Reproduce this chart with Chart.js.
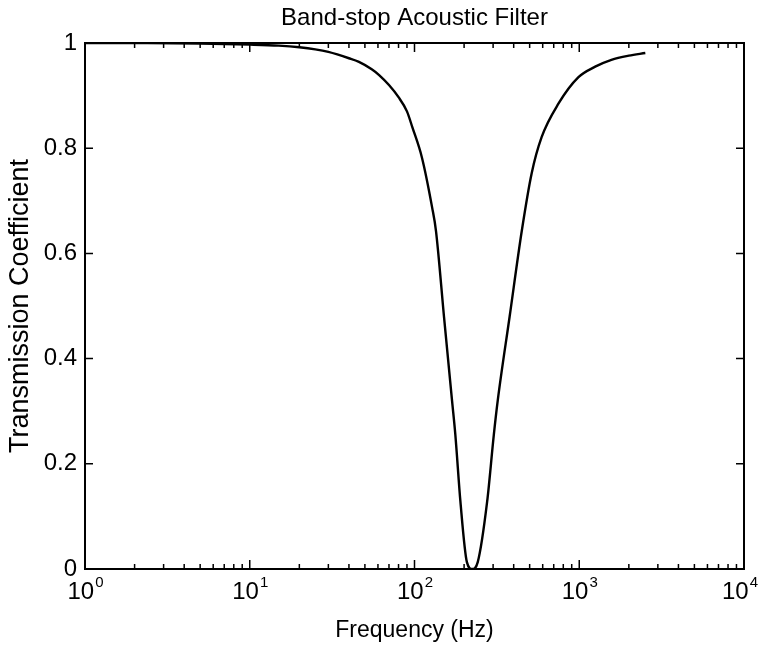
<!DOCTYPE html>
<html>
<head>
<meta charset="utf-8">
<script src="https://cdn.jsdelivr.net/npm/chart.js@4.4.1/dist/chart.umd.min.js"></script>
<style>
  html, body { margin: 0; padding: 0; background: #fff; }
  #wrap { width: 760px; height: 648px; }
</style>
</head>
<body>
<div id="wrap"><canvas id="filterChart"></canvas></div>
<script>
// values
const freqs = [1, 2, 5, 10, 15, 20, 25, 30, 40, 46, 55, 61, 70, 80, 90, 97, 111, 128, 135, 151,
  169, 177, 190, 208, 224, 242, 276, 303, 320, 378, 448, 514, 591, 749, 989, 1250, 1567, 2000, 2518];
const trans = [1.0, 0.9998, 0.999, 0.997, 0.995, 0.992, 0.988, 0.983, 0.971, 0.964, 0.95, 0.939, 0.92, 0.897, 0.87, 0.84, 0.782, 0.687, 0.643, 0.48,
  0.32, 0.255, 0.128, 0.013, 0, 0.013, 0.128, 0.255, 0.32, 0.48, 0.643, 0.752, 0.821, 0.885, 0.935, 0.955, 0.968, 0.976, 0.981];

const xDecades = [1, 10, 100, 1000, 10000];
const xExponents = ["0", "1", "2", "3", "4"];
const yTicks = [0, 0.2, 0.4, 0.6, 0.8, 1];
const chartTitle = "Band-stop Acoustic Filter";

const FONT = "'Liberation Sans', Arial, Helvetica, sans-serif";

// MATLAB-like box, inward ticks, 10^n labels and title
const frameTicks = {
  id: "frameTicks",
  afterDatasetsDraw(chart) {
    const { ctx, chartArea: a, scales: { x, y } } = chart;
    ctx.save();
    ctx.strokeStyle = "#000";
    ctx.lineWidth = 1.5;
    ctx.beginPath();
    for (let i = 0; i < xDecades.length; i++) {
      const d = xDecades[i];
      const steps = i < xDecades.length - 1 ? 9 : 1;
      for (let k = 1; k <= steps; k++) {
        const px = x.getPixelForValue(k * d);
        const len = k === 1 ? 9 : 5;
        ctx.moveTo(px, a.bottom); ctx.lineTo(px, a.bottom - len);
        ctx.moveTo(px, a.top); ctx.lineTo(px, a.top + len);
      }
    }
    yTicks.forEach(v => {
      const py = y.getPixelForValue(v);
      ctx.moveTo(a.left, py); ctx.lineTo(a.left + 8, py);
      ctx.moveTo(a.right, py); ctx.lineTo(a.right - 8, py);
    });
    ctx.stroke();
    ctx.lineWidth = 2;
    ctx.strokeRect(a.left, a.top, a.right - a.left, a.bottom - a.top);

    // x tick labels with superscript exponents
    ctx.fillStyle = "#000";
    ctx.textBaseline = "alphabetic";
    ctx.textAlign = "left";
    const base = a.bottom + 30;
    xDecades.forEach((d, i) => {
      ctx.font = `24px ${FONT}`;
      const wBase = ctx.measureText("10").width;
      ctx.font = `15px ${FONT}`;
      const wExp = ctx.measureText(xExponents[i]).width;
      let left = x.getPixelForValue(d) - (wBase + wExp) / 2;
      left = Math.min(left, chart.width - 2 - wBase - wExp - 1);
      ctx.font = `24px ${FONT}`;
      ctx.fillText("10", left, base);
      ctx.font = `15px ${FONT}`;
      ctx.fillText(xExponents[i], left + wBase + 1, base - 12);
    });

    // title centred over the plot box
    ctx.font = `24px ${FONT}`;
    ctx.textAlign = "center";
    ctx.textBaseline = "middle";
    ctx.fillText(chartTitle, (a.left + a.right) / 2, 18);
    ctx.restore();
  }
};

new Chart(document.getElementById("filterChart"), {
  type: "line",
  data: {
    datasets: [{
      data: freqs.map((f, i) => ({ x: f, y: trans[i] })),
      borderColor: "#000",
      borderWidth: 2.4,
      pointRadius: 0,
      fill: false,
      cubicInterpolationMode: "monotone"
    }]
  },
  options: {
    responsive: true,
    maintainAspectRatio: false,
    animation: false,
    layout: { padding: { left: 0, right: 16, top: 43, bottom: 0 } },
    plugins: {
      legend: { display: false },
      tooltip: { enabled: false },
      title: { display: false }
    },
    scales: {
      x: {
        type: "logarithmic",
        min: 1,
        max: 10000,
        grid: { display: false, drawTicks: false },
        border: { display: false },
        afterFit: s => { s.height = 79; s.paddingLeft = 0; s.paddingRight = 0; },
        ticks: { display: false },
        title: {
          display: true,
          text: "Frequency (Hz)",
          color: "#000",
          font: { family: FONT, size: 23 },
          padding: { top: 0, bottom: 4 }
        }
      },
      y: {
        min: 0,
        max: 1,
        grid: { display: false, drawTicks: false },
        border: { display: false },
        afterFit: s => { s.width = 85; s.paddingTop = 0; s.paddingBottom = 0; },
        afterBuildTicks: s => { s.ticks = yTicks.map(v => ({ value: v })); },
        ticks: {
          padding: 8,
          color: "#000",
          font: { family: FONT, size: 24 },
          callback: v => String(v)
        },
        title: {
          display: true,
          text: "Transmission Coefficient",
          color: "#000",
          font: { family: FONT, size: 27 },
          padding: { top: 4, bottom: 0 }
        }
      }
    }
  },
  plugins: [frameTicks]
});
</script>
</body>
</html>
